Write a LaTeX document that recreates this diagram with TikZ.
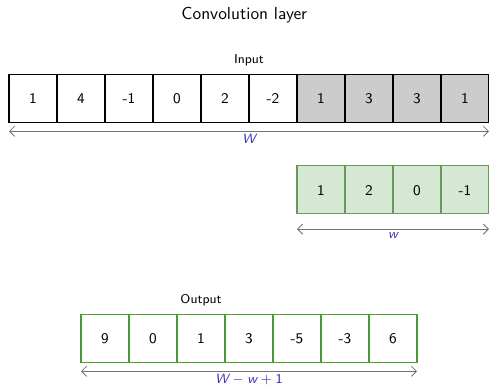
\documentclass[tikz,border=0pt]{standalone}
\usetikzlibrary{positioning,arrows.meta}
\definecolor{kerfill}{HTML}{D5E8D4}
\definecolor{kerdraw}{HTML}{6A9A58}
\definecolor{outdraw}{HTML}{4E9A38}
\definecolor{dimblue}{rgb}{0.2,0.2,0.7}
\newcommand{\sv}[1]{{\itshape #1}}
\begin{document}
\begin{tikzpicture}[x=1cm,y=1cm,font=\sffamily,
  dim/.style={draw=black!55, line width=0.5pt, {Straight Barb[length=3pt,width=6pt]}-{Straight Barb[length=3pt,width=6pt]}},
  dimlbl/.style={text=dimblue, font=\sffamily\fontsize{8}{9}\selectfont, inner sep=1.5pt}]
\tikzstyle{cell}=[draw, line width=0.6pt, minimum size=1cm, inner sep=0pt, outer sep=0pt, text height=1.6ex, text depth=0pt, font=\sffamily\fontsize{8.8}{10}\selectfont]
\tikzstyle{hdr}=[font=\sffamily\fontsize{7.6}{8}\selectfont]
\useasboundingbox (0,0) rectangle (10.1875,-8.083);
\node[font=\sffamily\fontsize{10.3}{12}\selectfont] (title) at (5.09,-0.31) {Convolution layer};
% input row
\node[hdr] (inlbl) at (5.1875,-1.25) {Input};
\foreach \v [count=\i from 0] in {1,4,-1,0,2,-2}{
  \node[cell] (in\i) at (0.6875+\i,-2.042) {\v};}
\foreach \v [count=\i from 6] in {1,3,3,1}{
  \node[cell, fill=black!20] (in\i) at (0.6875+\i,-2.042) {\v};}
\draw[dim] ([yshift=-5.5pt]in0.south west) -- ([yshift=-5.5pt]in9.south east) node[dimlbl, midway, below] {\sv{W}};
% kernel
\foreach \v [count=\i from 0] in {1,2,0,-1}{
  \node[cell, draw=kerdraw, fill=kerfill] (k\i) at (6.6875+\i,-3.958) {\v};}
\draw[dim] ([yshift=-9pt]k0.south west) -- ([yshift=-9pt]k3.south east) node[dimlbl, midway, below] {\sv{w}};
% output row
\node[hdr] (outlbl) at (4.1875,-6.25) {Output};
\foreach \v [count=\i from 0] in {9,0,1,3,-5,-3,6}{
  \node[cell, draw=outdraw] (out\i) at (2.1875+\i,-7.042) {\v};}
\draw[dim] ([yshift=-5.5pt]out0.south west) -- ([yshift=-5.5pt]out6.south east) node[dimlbl, midway, below] {\sv{W}\;$-$\;\sv{w}\;$+$\;1};
\end{tikzpicture}
\end{document}
